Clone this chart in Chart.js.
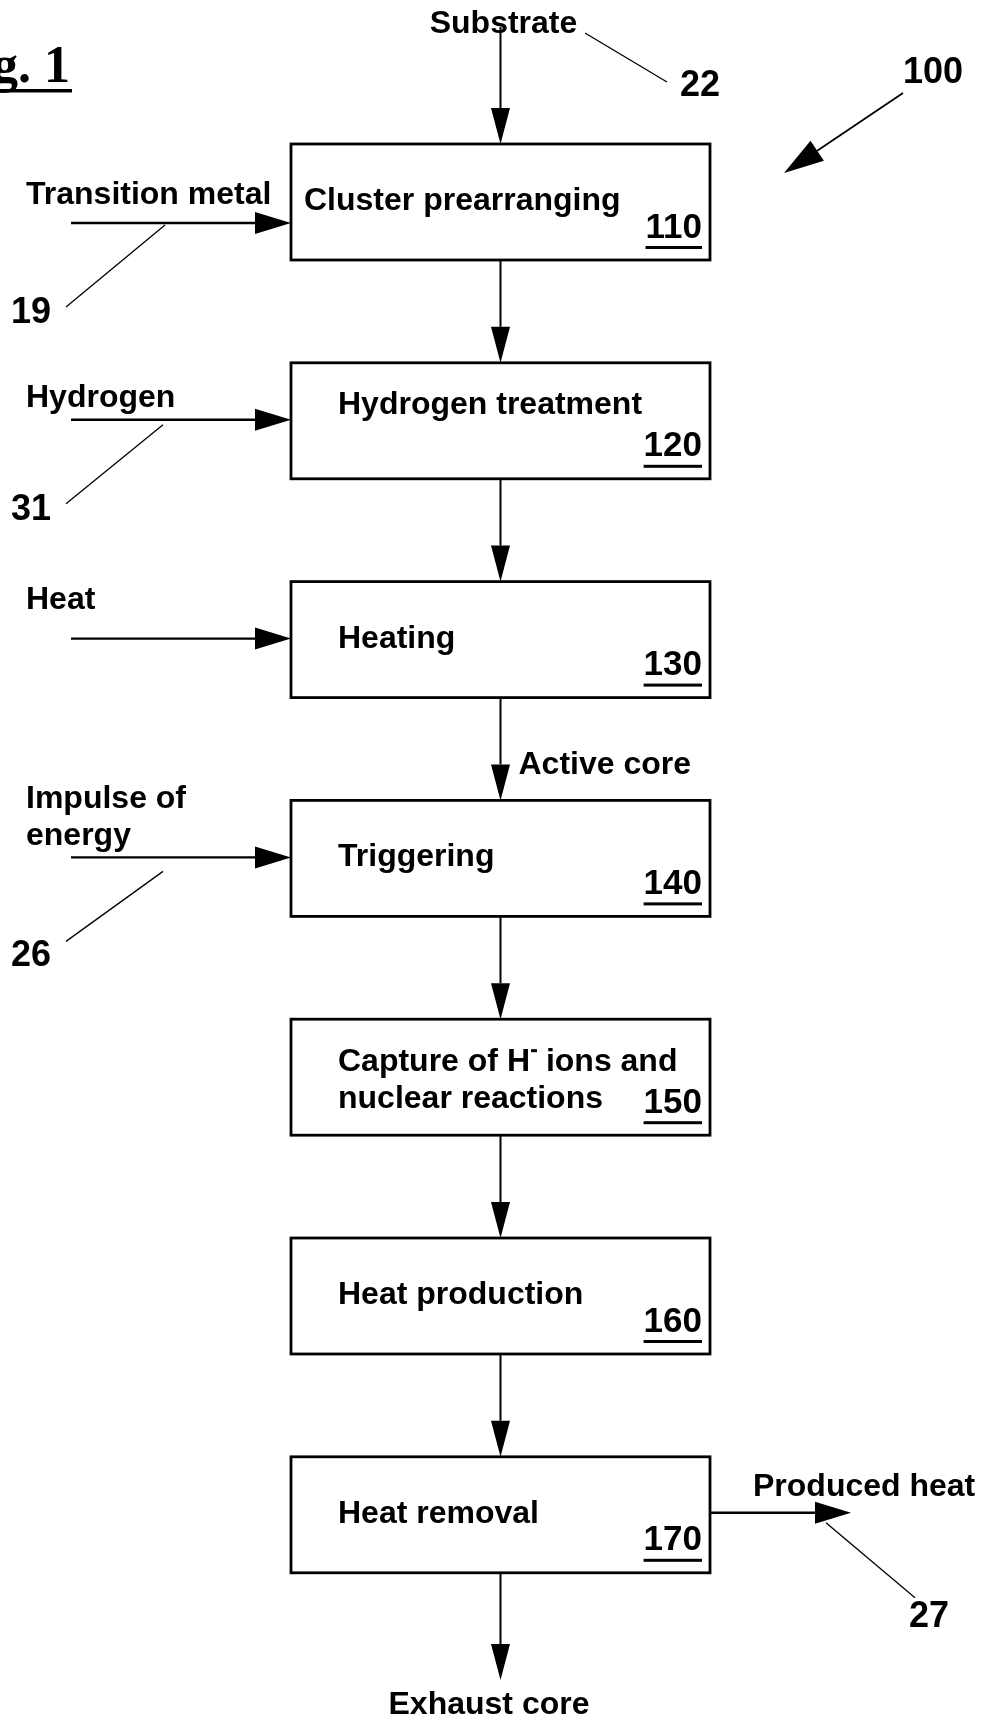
<!DOCTYPE html>
<html lang="en">
<head>
    <meta charset="UTF-8">
    <title>Fig. 1</title>
    <script src="https://cdn.jsdelivr.net/npm/chart.js"></script>
    <style>
        html, body { margin: 0; padding: 0; background: #fff; }
        .chart-container { width: 985px; height: 1722px; }
    </style>
</head>
<body>
    <div class="chart-container">
        <canvas id="fluxo"></canvas>
    </div>

    <script>
        // Process steps, top to bottom
        const stepLabels = [
            ["Cluster prearranging"],
            ["Hydrogen treatment"],
            ["Heating"],
            ["Triggering"],
            ["Capture of H\u207B ions and", "nuclear reactions"],
            ["Heat production"],
            ["Heat removal"]
        ];
        const stepNumbers = ["110", "120", "130", "140", "150", "160", "170"];

        // Side inputs (arrow into a step from the left)
        const inputLabels = [["Transition metal"], ["Hydrogen"], ["Heat"], ["Impulse of", "energy"]];
        const inputRefs = ["19", "31", "", "26"];
        const inputSteps = [0, 1, 2, 3];

        // Other flows
        const feedLabel = "Substrate";
        const feedRef = "22";
        const flowLabel = "Active core";
        const flowIntoStep = 3;
        const outputLabel = "Produced heat";
        const outputRef = "27";
        const exitLabel = "Exhaust core";
        const figureRef = "100";
        const figureTitle = "Fig. 1";

        // Layout, in sheet units (the axes run 0..985 and 0..1722)
        const L = {
            boxLeft: 291, boxRight: 710, firstTop: 144, pitch: 218.8, boxH: 116,
            textX: [304, 338, 338, 338, 338, 338, 338],
            textDy: [57, 42, 58, 57, 43, 57, 57],
            lineGap: 37,
            numDy: 84,
            inputX: 71,
            inputDy: [79, 57, 57, 57],
            inputLabelX: 26,
            inputLabelDy: [-28, -22, -38, -58],
            leaderStart: [[165, 2], [163, 5], null, [163, 14]],
            leaderEnd: [66, 84],
            refLabel: [31, 90],
            outputEnd: 851
        };

        const FONT = '"Liberation Sans", Arial, sans-serif';
        const midX = (L.boxLeft + L.boxRight) / 2;
        const boxTop = i => L.firstTop + i * L.pitch;

        const diagrama = {
            id: "diagrama",
            afterDatasetsDraw(chart) {
                const ctx = chart.ctx;
                const sx = chart.scales.x, sy = chart.scales.y;
                const px = v => sx.getPixelForValue(v);
                const py = v => sy.getPixelForValue(v);

                function line(x1, y1, x2, y2, w) {
                    ctx.lineWidth = w;
                    ctx.beginPath();
                    ctx.moveTo(px(x1), py(y1));
                    ctx.lineTo(px(x2), py(y2));
                    ctx.stroke();
                }
                function arrow(x1, y1, x2, y2, w, len, half) {
                    const X1 = px(x1), Y1 = py(y1), X2 = px(x2), Y2 = py(y2);
                    const a = Math.atan2(Y2 - Y1, X2 - X1);
                    const bx = X2 - Math.cos(a) * len, by = Y2 - Math.sin(a) * len;
                    ctx.lineWidth = w;
                    ctx.beginPath();
                    ctx.moveTo(X1, Y1);
                    ctx.lineTo(bx, by);
                    ctx.stroke();
                    ctx.beginPath();
                    ctx.moveTo(X2, Y2);
                    ctx.lineTo(bx + Math.sin(a) * half, by - Math.cos(a) * half);
                    ctx.lineTo(bx - Math.sin(a) * half, by + Math.cos(a) * half);
                    ctx.closePath();
                    ctx.fill();
                }
                function text(str, x, y, size, align) {
                    ctx.font = "bold " + size + "px " + FONT;
                    ctx.textAlign = align || "left";
                    ctx.textBaseline = "middle";
                    ctx.fillText(str, px(x), py(y));
                }

                ctx.save();
                ctx.strokeStyle = "#000";
                ctx.fillStyle = "#000";
                ctx.lineCap = "butt";

                // boxes, labels, step numbers
                stepLabels.forEach((lines, i) => {
                    const top = boxTop(i);
                    ctx.lineWidth = 2.8;
                    ctx.strokeRect(px(L.boxLeft), py(top), px(L.boxRight) - px(L.boxLeft), py(top + L.boxH) - py(top));

                    lines.forEach((s, k) => {
                        const y = top + L.textDy[i] + k * L.lineGap;
                        if (s.includes("\u207B")) {
                            const [a, b] = s.split("\u207B");
                            ctx.font = "bold 32px " + FONT;
                            const wa = ctx.measureText(a).width;
                            text(a, L.textX[i], y, 32);
                            ctx.fillRect(px(L.textX[i]) + wa + 1, py(y) - 13, 6, 3);
                            text(b, L.textX[i] + wa + 7, y, 32);
                        } else {
                            text(s, L.textX[i], y, 32);
                        }
                    });

                    const ny = top + L.numDy;
                    text(stepNumbers[i], L.boxRight - 8, ny, 35, "right");
                    const w = ctx.measureText(stepNumbers[i]).width;
                    ctx.fillRect(px(L.boxRight - 8) - w, py(ny) + 18, w, 3);

                    // arrow to the next step
                    if (i < stepLabels.length - 1) {
                        arrow(midX, top + L.boxH, midX, boxTop(i + 1), 2, 36, 9.5);
                    }
                });

                // feed from the top
                arrow(midX, 27, midX, boxTop(0), 2, 36, 9.5);
                text(feedLabel, midX + 3, 24, 32, "center");
                line(585, 33, 667, 82, 1.3);
                text(feedRef, 700, 86, 36, "center");

                // figure reference arrow
                arrow(903, 93, 784, 173, 1.8, 40, 12);
                text(figureRef, 933, 73, 36, "center");

                // side inputs
                inputLabels.forEach((lines, j) => {
                    const y = boxTop(inputSteps[j]) + L.inputDy[j];
                    arrow(L.inputX, y, L.boxLeft, y, 2.4, 36, 11);
                    lines.forEach((s, k) => {
                        text(s, L.inputLabelX, y + L.inputLabelDy[j] + k * L.lineGap, 32);
                    });
                    if (inputRefs[j]) {
                        const st = L.leaderStart[j];
                        line(st[0], y + st[1], L.leaderEnd[0], y + L.leaderEnd[1], 1.3);
                        text(inputRefs[j], L.refLabel[0], y + L.refLabel[1] + (j === 3 ? 9 : 0), 36, "center");
                    }
                });

                // flow label between steps
                text(flowLabel, midX + 18, boxTop(flowIntoStep) - 35, 32);

                // output on the right of the last step
                const last = stepLabels.length - 1;
                const oy = boxTop(last) + 56;
                arrow(L.boxRight, oy, L.outputEnd, oy, 2.4, 36, 11);
                text(outputLabel, 753, oy - 26, 32);
                line(826, oy + 10, 915, oy + 85, 1.3);
                text(outputRef, 929, oy + 104, 36, "center");

                // exit at the bottom
                arrow(midX, boxTop(last) + L.boxH, midX, 1680, 2, 36, 9.5);
                text(exitLabel, 489, 1705, 32, "center");

                // title, cut at the left edge
                ctx.font = 'bold 52px "Liberation Serif", "Times New Roman", serif';
                ctx.textAlign = "right";
                ctx.textBaseline = "alphabetic";
                ctx.fillText(figureTitle, px(70), py(82));
                ctx.fillRect(px(0), py(89), px(72) - px(0), 3.5);

                ctx.restore();
            }
        };

        new Chart(document.getElementById("fluxo"), {
            type: "scatter",
            data: {
                datasets: [{
                    label: "Steps",
                    data: stepNumbers.map((n, i) => ({ x: midX, y: boxTop(i) + L.boxH / 2 })),
                    pointRadius: 0
                }]
            },
            options: {
                animation: false,
                responsive: true,
                maintainAspectRatio: false,
                layout: { padding: 0 },
                plugins: { legend: { display: false }, tooltip: { enabled: false } },
                scales: {
                    x: { type: "linear", min: 0, max: 985, display: false },
                    y: { type: "linear", min: 0, max: 1722, reverse: true, display: false }
                }
            },
            plugins: [diagrama]
        });
    </script>
</body>
</html>
